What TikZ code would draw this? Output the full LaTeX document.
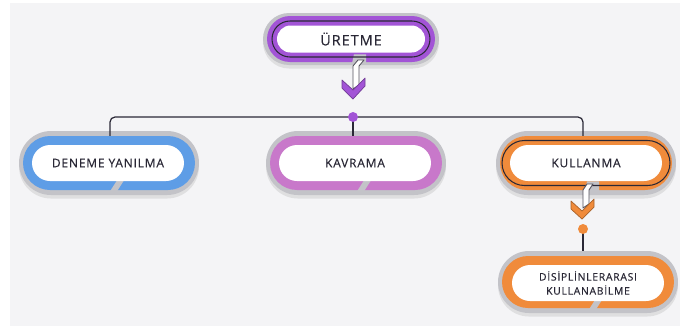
\documentclass[tikz,border=0pt]{standalone}
\usepackage{fontspec}
\setmainfont{Open Sans}
\newfontfamily\boxfont[LetterSpace=7,FakeBold=0.4]{Open Sans}
\usepackage{tikz}
\usetikzlibrary{shapes.misc,shadows,calc,positioning}
\definecolor{bggray}{HTML}{F4F4F6}
\definecolor{shellgray}{HTML}{C3C3C8}
\definecolor{ink}{HTML}{2A2836}
\definecolor{cpurple}{HTML}{A254D6}
\definecolor{cblue}{HTML}{5E9DE6}
\definecolor{cpink}{HTML}{C878CA}
\definecolor{corange}{HTML}{F08B3B}
\tikzset{
	shell/.style={rounded rectangle, fill=shellgray, inner sep=0pt,
		minimum width=3.6cm, minimum height=1.28cm,
		drop shadow={opacity=0.18, shadow xshift=0pt, shadow yshift=-2pt}},
	band/.style={rounded rectangle, fill=#1, inner sep=0pt,
		minimum width=3.44cm, minimum height=1.08cm},
	label/.style={rounded rectangle, fill=white, inner sep=0pt,
		minimum width=3.04cm, minimum height=0.72cm, text=ink,
		font=\boxfont\fontsize{6.8}{8}\selectfont, align=center},
	rim/.style={rounded rectangle, draw=ink, line width=0.6pt, inner sep=0pt},
	wire/.style={draw=ink, line width=0.7pt, rounded corners=0.1cm},
	gap/.style={fill=shellgray},
	dot/.style={circle, fill=#1, inner sep=0pt, minimum size=0.2cm},
	stem/.style={fill=white, draw=ink!80, line width=0.5pt, line join=round},
	chevron/.style={fill=#1, draw=#1!70!black, line width=0.4pt, line join=round}
}
\begin{document}
\begin{tikzpicture}[x=0.02cm, y=-0.02cm]
	%background
	\fill[white] (0,0) rectangle (680,326);
	\fill[bggray] (10,3) rectangle (680,326);
	\useasboundingbox (0,0) rectangle (680,326);

	%% grey shells behind every box
	\node[shell, minimum width=3.52cm, minimum height=1.04cm] (ure-sh) at (351,39){};
	\node[shell] (den-sh) at (109,163){};
	\node[shell] (kav-sh) at (356,163){};
	\node[shell] (kul-sh) at (586,163){};
	\node[shell, minimum height=1.24cm] (dis-sh) at (588,282){};

	%% connectors
	\coordinate (hub) at (353,117);
	\coordinate (kulhub) at (583,229);
	\draw[wire] (hub) -- ($(kav-sh.north)+(-3,6)$);
	\draw[wire] ($(den-sh.north)+(1,6)$) |- (hub) -| ($(kul-sh.north)+(-3,6)$);
	\draw[wire] (kulhub) -- (kulhub |- dis-sh.north);

	%% coloured bands
	\node[band=cpurple, minimum width=3.36cm, minimum height=0.92cm] (ure-bd) at (351,39){};
	\node[band=cblue] (den-bd) at (109,163){};
	\node[band=cpink] (kav-bd) at (356,163){};
	\node[band=corange] (kul-bd) at (586,163){};
	\node[band=corange, minimum height=1.04cm] (dis-bd) at (588,282){};

	%% small slanted gaps at the bottom of the bands
	\foreach \n in {den,kav,dis}{
		\fill[gap] ($(\n-bd.south)+(1,1)$) -- ++(7,0) -- ++(7,-11) -- ++(-7,0) -- cycle;
	}
	\fill[gap] ($(ure-bd.south)+(1,1)$) -- ++(14,0) -- ++(0,-9) -- ++(-12,0) -- cycle;
	\fill[gap] ($(kul-bd.south)+(-1,1)$) -- ++(14,0) -- ++(0,-10) -- ++(-12,0) -- cycle;

	%% dark rims on the top box and KULLANMA
	\node[rim, minimum width=3.16cm, minimum height=0.72cm] (ure-rim) at (351,39){};
	\node[rim, minimum width=3.36cm, minimum height=0.9cm] (kul-rim) at (586,163){};

	%% white labels
	\node[label, minimum width=2.96cm, minimum height=0.54cm,
		font=\boxfont\fontsize{8.2}{9}\selectfont] (ure) at (351,39){ÜRETME};
	\node[label] (den) at (108,163){DENEME YANILMA};
	\node[label] (kav) at (355,163){KAVRAMA};
	\node[label] (kul) at (586,163){KULLANMA};
	\node[label, font=\boxfont\fontsize{5.9}{8}\selectfont] (dis) at (588,283){DİSİPLİNLERARASI\\KULLANABİLME};

	%% arrow under ÜRETME
	\draw[stem] (353,89) -- (353,66) -- (358,60) -- (364,60) -- (359,66) -- (359,85) -- cycle;
	\draw[chevron=cpurple] (342,80) -- (353,90) -- (365,78) -- (365,86) -- (353,99) -- (342,88) -- cycle;
	\node[dot=cpurple] (hubdot) at (hub){};

	%% arrow under KULLANMA
	\draw[stem] (583,208) -- (583,190) -- (587,184) -- (593,184) -- (589,190) -- (589,204) -- cycle;
	\draw[chevron=corange] (571,201) -- (582,211) -- (594,199) -- (594,207) -- (582,219) -- (571,209) -- cycle;
	\node[dot=corange] (kuldot) at (kulhub){};
\end{tikzpicture}
\end{document}
